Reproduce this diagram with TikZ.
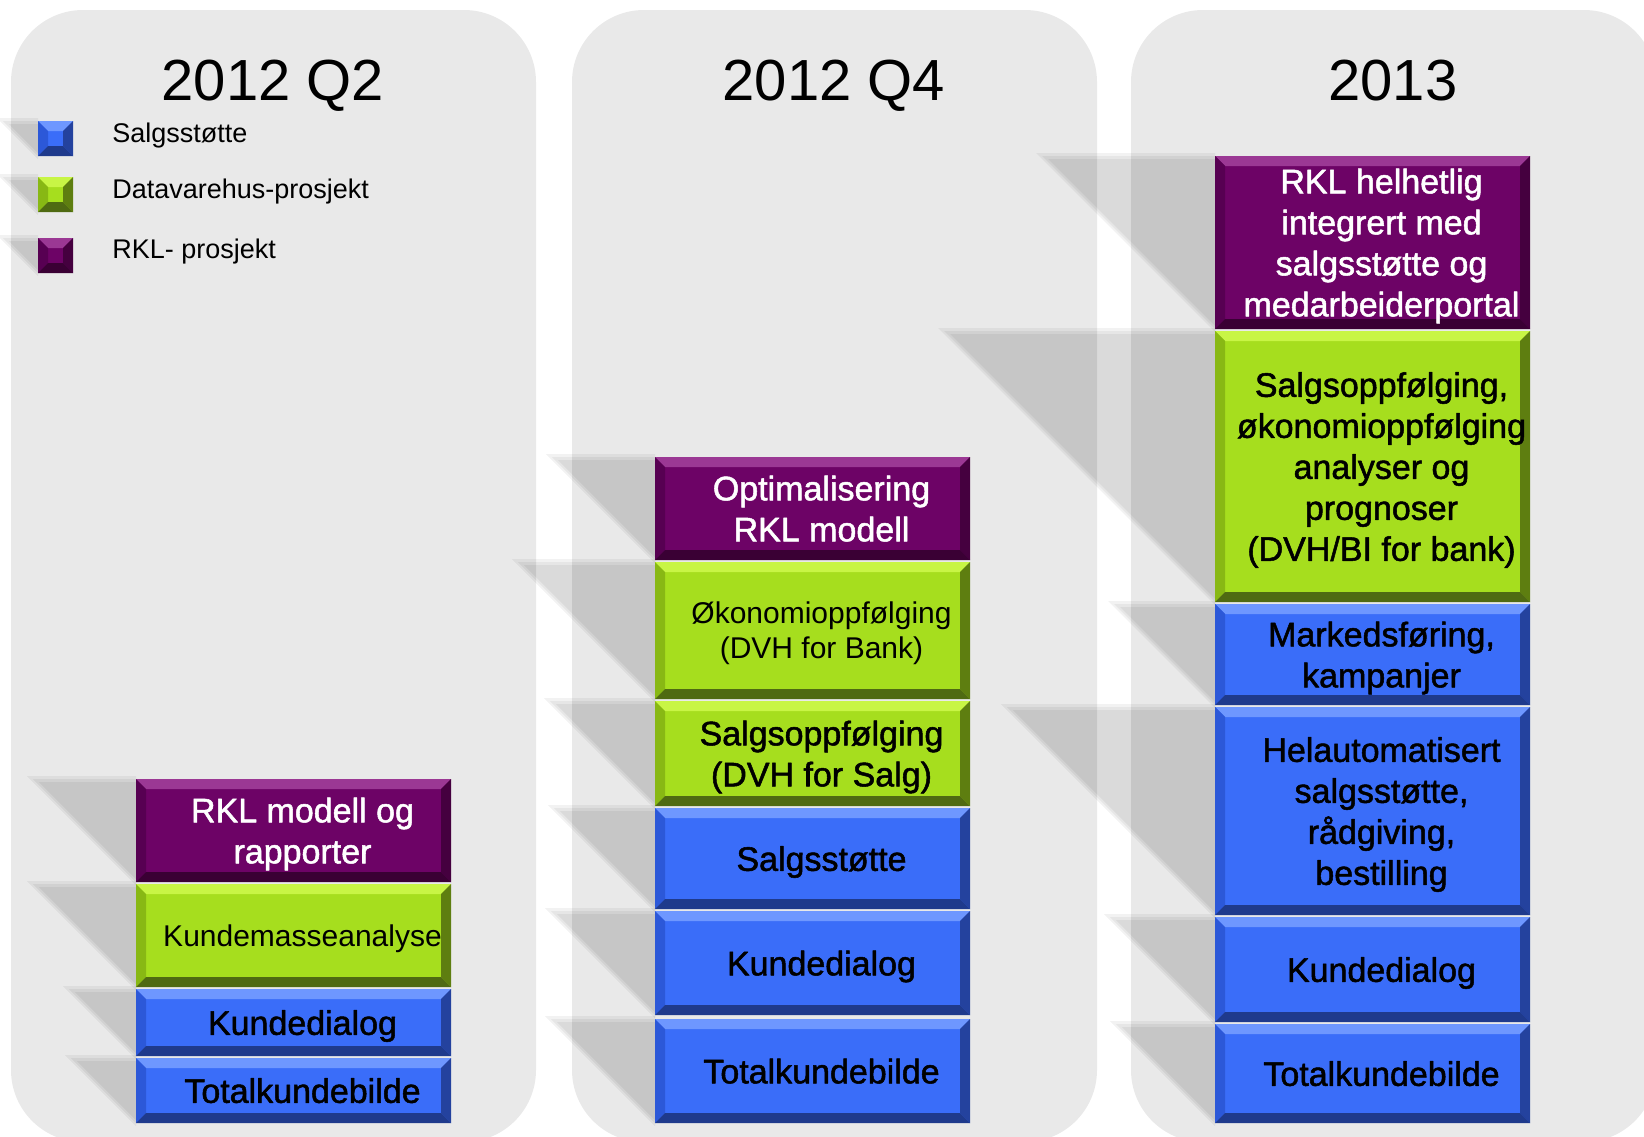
\documentclass[tikz,border=0pt]{standalone}
\usepackage{fontspec}
\setmainfont{Liberation Sans}
\newfontfamily\heavyfont[FakeBold=1.5]{Liberation Sans}

\definecolor{panelgray}{HTML}{E9E9E9}
\definecolor{blueface}{HTML}{3A6DF9}
\definecolor{bluetop}{HTML}{6E97FF}
\definecolor{blueleft}{HTML}{2C58D8}
\definecolor{blueright}{HTML}{24429E}
\definecolor{bluebottom}{HTML}{1F3A8C}
\definecolor{greenface}{HTML}{A6DE1E}
\definecolor{greentop}{HTML}{C8F545}
\definecolor{greenleft}{HTML}{88B814}
\definecolor{greenright}{HTML}{5E7E10}
\definecolor{greenbottom}{HTML}{4F6A12}
\definecolor{purpleface}{HTML}{6D0366}
\definecolor{purpletop}{HTML}{9B3894}
\definecolor{purpleleft}{HTML}{570052}
\definecolor{purpleright}{HTML}{45003F}
\definecolor{purplebottom}{HTML}{3A0034}

\tikzset{
  panel/.style={fill=panelgray,rounded corners=36pt},
  blockshadow/.style={fill=black,opacity=0.052},
  blocktext/.style={font=\heavyfont\fontsize{17}{20.5}\selectfont,align=center,inner sep=0pt,text depth=0pt},
  smalltext/.style={font=\normalfont\fontsize{15}{17.5}\selectfont},
  whitetext/.style={text=white},
  titletext/.style={font=\fontsize{29}{34}\selectfont,inner sep=0pt},
  legendtext/.style={font=\fontsize{13.5}{16}\selectfont,inner sep=0pt},
}

\newcommand*\blockw{315}
\newcommand*\bev{10}

\newcommand*\bevelbox[6]{%
% #1=colour; #2=left; #3=top; #4=right; #5=bottom; #6=bevel width
  % soft 45 degree shadow, three layers
  \foreach \k in {-3,0,3}
    \fill[blockshadow] ({#2-(#5-#3)-2*\k},{#3-\k}) -- (#2,{#3-\k}) -- (#2,{#5+\k}) -- cycle;
  \fill[#1face] (#2,#3) rectangle (#4,#5);
  \fill[#1top] (#2,#3) -- (#4,#3) -- ({#4-#6},{#3+#6}) -- ({#2+#6},{#3+#6}) -- cycle;
  \fill[#1left] (#2,#3) -- ({#2+#6},{#3+#6}) -- ({#2+#6},{#5-#6}) -- (#2,#5) -- cycle;
  \fill[#1right] (#4,#3) -- (#4,#5) -- ({#4-#6},{#5-#6}) -- ({#4-#6},{#3+#6}) -- cycle;
  \fill[#1bottom] (#2,#5) -- (#4,#5) -- ({#4-#6},{#5-#6}) -- ({#2+#6},{#5-#6}) -- cycle;
}

\newcommand*\drawblock[7][]{%
% #2=name; #3=colour; #4=left; #5=top; #6=bottom; #7=text
  \pgfmathsetmacro\blockright{#4+\blockw}%
  \bevelbox{#3}{#4}{#5}{\blockright}{#6}{\bev}
  \node[blocktext,#1] (#2) at ({#4+\blockw/2+9},{(#5+#6)/2}) {#7};
}

\begin{document}
\begin{tikzpicture}[x=0.5pt,y=-0.5pt,line cap=round,line join=round]
\useasboundingbox (0,0) rectangle (1644,1136);
\clip (0,0) rectangle (1644,1136);

% three time panels
\fill[panel] (11,10) rectangle (536,1142);
\fill[panel] (572,10) rectangle (1097,1142);
\fill[panel] (1131,10) rectangle (1656,1142);

\node[titletext,anchor=base] (titleq2) at (273,100) {2012 Q2};
\node[titletext,anchor=base] (titleq4) at (834,100) {2012 Q4};
\node[titletext,anchor=base] (titlenext) at (1393,100) {2013};

% legend
\bevelbox{blue}{38}{121}{73}{156}{10}
\bevelbox{green}{38}{177}{73}{212}{10}
\bevelbox{purple}{38}{238}{73}{273}{10}
\node[legendtext,anchor=base west] (keyblue) at (112,142) {Salgsstøtte};
\node[legendtext,anchor=base west] (keygreen) at (112,198) {Datavarehus-prosjekt};
\node[legendtext,anchor=base west] (keypurple) at (112,258) {RKL- prosjekt};

% 2012 Q2
\drawblock[whitetext]{qtworkl}{purple}{136}{779}{882}{RKL modell og\\rapporter}
\drawblock[smalltext]{qtwodvh}{green}{136}{884}{987}{Kundemasseanalyse}
\drawblock{qtwodialog}{blue}{136}{989}{1056}{Kundedialog}
\drawblock{qtwototal}{blue}{136}{1058}{1123}{Totalkundebilde}

% 2012 Q4
\drawblock[whitetext]{qfourrkl}{purple}{655}{457}{560}{Optimalisering\\RKL modell}
\drawblock[smalltext]{qfourbank}{green}{655}{562}{699}{Økonomioppfølging\\(DVH for Bank)}
\drawblock{qfoursalg}{green}{655}{701}{806}{Salgsoppfølging\\(DVH for Salg)}
\drawblock{qfourstotte}{blue}{655}{808}{909}{Salgsstøtte}
\drawblock{qfourdialog}{blue}{655}{911}{1015}{Kundedialog}
\drawblock{qfourtotal}{blue}{655}{1019}{1123}{Totalkundebilde}

% 2013
\drawblock[whitetext]{yearrkl}{purple}{1215}{156}{329}{RKL helhetlig\\integrert med\\salgsstøtte og\\medarbeiderportal}
\drawblock{yeardvh}{green}{1215}{331}{602}{Salgsoppfølging,\\økonomioppfølging\\analyser og\\prognoser\\(DVH/BI for bank)}
\drawblock{yearmarked}{blue}{1215}{604}{705}{Markedsføring,\\kampanjer}
\drawblock{yearauto}{blue}{1215}{707}{915}{Helautomatisert\\salgsstøtte,\\rådgiving,\\bestilling}
\drawblock{yeardialog}{blue}{1215}{917}{1022}{Kundedialog}
\drawblock{yeartotal}{blue}{1215}{1024}{1123}{Totalkundebilde}
\end{tikzpicture}
\end{document}
